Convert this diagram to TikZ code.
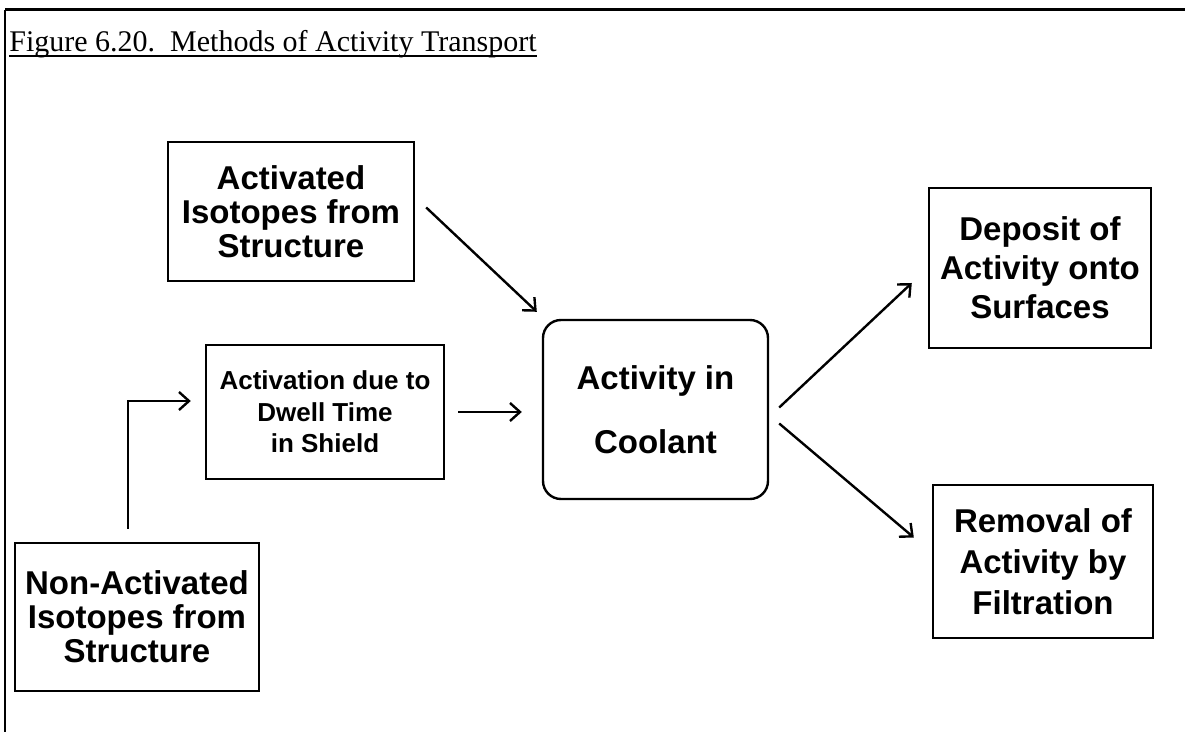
\documentclass[tikz,border=0pt]{standalone}
\usepackage{fontspec}
\setmainfont{Liberation Serif}
\setsansfont{Liberation Sans}
\usetikzlibrary{arrows.meta,positioning,calc}

\begin{document}
\begin{tikzpicture}[x=0.5pt, y=-0.5pt,
  box/.style={draw, line width=1.2pt, align=center, inner sep=0pt,
    font=\sffamily\bfseries\fontsize{16.5}{17}\selectfont},
  small/.style={font=\sffamily\bfseries\fontsize{13}{15.75}\selectfont},
  arr/.style={line width=1.2pt, -{Straight Barb[length=5pt,width=9pt]}}]
\useasboundingbox (0,0) rectangle (1185,732);
% page frame
\draw[line width=1.5pt] (1185,10) -- (5,10);
\draw[line width=1pt] (5,10) -- (5,732);
\node[anchor=base west, inner sep=0pt, font=\fontsize{15}{18}\selectfont]
  (title) at (9,52) {Figure 6.20.\ \ Methods of Activity Transport};
\draw[line width=1pt] ([yshift=-2pt]title.base west) -- ([yshift=-2pt]title.base east);

\node[box, minimum width=123pt, minimum height=69.5pt] (act) at (291,211.5)
  {Activated\\Isotopes from\\Structure};
\node[box, small, minimum width=119pt, minimum height=67pt] (dwell) at (325,412)
  {Activation due to\\Dwell Time\\in Shield};
\node[box, minimum width=122pt, minimum height=74pt] (nonact) at (137,617)
  {Non-Activated\\Isotopes from\\Structure};
\node[box, rounded corners=9pt, minimum width=112.5pt, minimum height=89.5pt,
  font=\sffamily\bfseries\fontsize{16.5}{32}\selectfont] (cool) at (655.5,409.5)
  {Activity in\\Coolant};
\node[box, minimum width=111pt, minimum height=80pt,
  font=\sffamily\bfseries\fontsize{16.5}{19.5}\selectfont] (dep) at (1040,268)
  {Deposit of\\Activity onto\\Surfaces};
\node[box, minimum width=110pt, minimum height=76.5pt,
  font=\sffamily\bfseries\fontsize{16.5}{20.5}\selectfont] (rem) at (1043,561.5)
  {Removal of\\Activity by\\Filtration};

% flows into the coolant
\draw[arr] ([shift={(-4.5pt,6.5pt)}]nonact.north) |- ([shift={(-7pt,5.5pt)}]dwell.west);
\draw[arr] ([shift={(5.5pt,2pt)}]act.east) -- ([shift={(-2.5pt,3.5pt)}]cool.north west);
\draw[arr] ([xshift=6.5pt]dwell.east) -- ([xshift=-10pt]dwell.east -| cool.west);
% flows out of the coolant
\draw[arr] ([shift={(5pt,1pt)}]cool.east) -- ([shift={(-8pt,-7.5pt)}]dep.west);
\draw[arr] ([shift={(5pt,-7pt)}]cool.east) -- ([shift={(-9pt,12pt)}]rem.west);
\end{tikzpicture}
\end{document}
